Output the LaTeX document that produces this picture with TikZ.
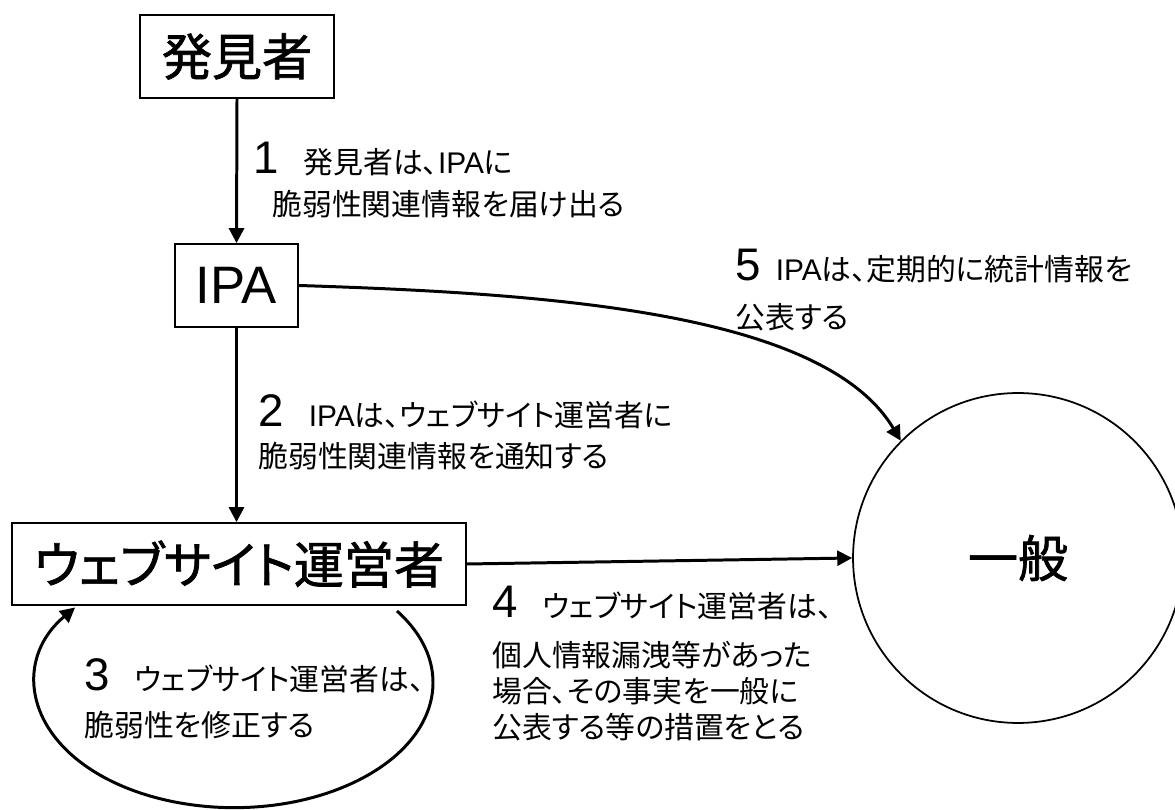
\documentclass[tikz,border=0pt]{standalone}
\usepackage{fontspec}
\setmainfont{Noto Sans CJK JP}[RawFeature=+palt]
\newfontfamily\heavyjp{Noto Sans CJK JP}[RawFeature=+palt, FakeBold=1.4]
\newfontfamily\latinfont{Liberation Sans}
\usetikzlibrary{arrows.meta}
\newcommand\bigfont{\heavyjp\fontsize{28.5}{34}\selectfont}
\newcommand\notefont{\fontsize{17}{20.5}\selectfont}
\newcommand\stepno[1]{{\latinfont\fontsize{26}{26}\selectfont #1}\hspace{0.5cm}}
\newcommand\IPAname{{\latinfont IPA}}

\begin{document}
\begin{tikzpicture}[x=0.02cm, y=0.02cm,
  party/.style={draw, line width=1pt, inner sep=0pt, font=\bigfont},
  flow/.style={-{Triangle[length=8.5pt,width=8.5pt]}, line width=1.7pt},
  note/.style={anchor=base west, align=left, inner sep=0pt, font=\notefont}]
\useasboundingbox (0,0) rectangle (1175,810);

% parties
\node[party, minimum width=3.88cm, minimum height=1.66cm] (finder) at (237,753.5) {発見者};
\node[party, minimum width=2.46cm, minimum height=1.66cm, font=\latinfont\fontsize{30}{34}\selectfont] (ipa) at (236.5,524.5) {IPA};
\node[party, minimum width=9.08cm, minimum height=1.64cm] (site) at (239,246) {ウェブサイト運営者};
\node[party, circle, minimum size=6.6cm] (public) at (1018,252) {一般};

% flows
\draw[flow] (finder.south) -- (ipa.north);
\draw[flow] (ipa.south) -- (ipa.south |- site.north);
\draw[flow] (site.east) -- (public.west);
\draw[flow] (ipa.east) .. controls +(250,-8) and +(-77,129) .. (public.135);

% self loop under the site operator
\coordinate (loopstart) at (397,199);
\draw[flow] (loopstart) arc[start angle=35, end angle=-217, x radius=3.98cm, y radius=2.5cm];

% step notes (anchored at the baseline of their last line)
\node[note] (step1) at (253,594) {\stepno{1}発見者は、\IPAname に\\[3.4pt]\hspace*{0.38cm}脆弱性関連情報を届け出る};
\node[note] (step2) at (258,342) {\stepno{2}\IPAname は、ウェブサイト運営者に\\[3pt]脆弱性関連情報を通知する};
\node[note] (step3) at (84,73) {\stepno{3}ウェブサイト運営者は、\\[6pt]脆弱性を修正する};
\node[note] (step4) at (492,71) {\stepno{4}ウェブサイト運営者は、\\[7.4pt]個人情報漏洩等があった\\場合、その事実を一般に\\公表する等の措置をとる};
\node[note] (step5) at (735,481) {\stepno{5}\hspace{-0.2cm}\IPAname は、定期的に統計情報を\\[7pt]公表する};

\end{tikzpicture}
\end{document}
